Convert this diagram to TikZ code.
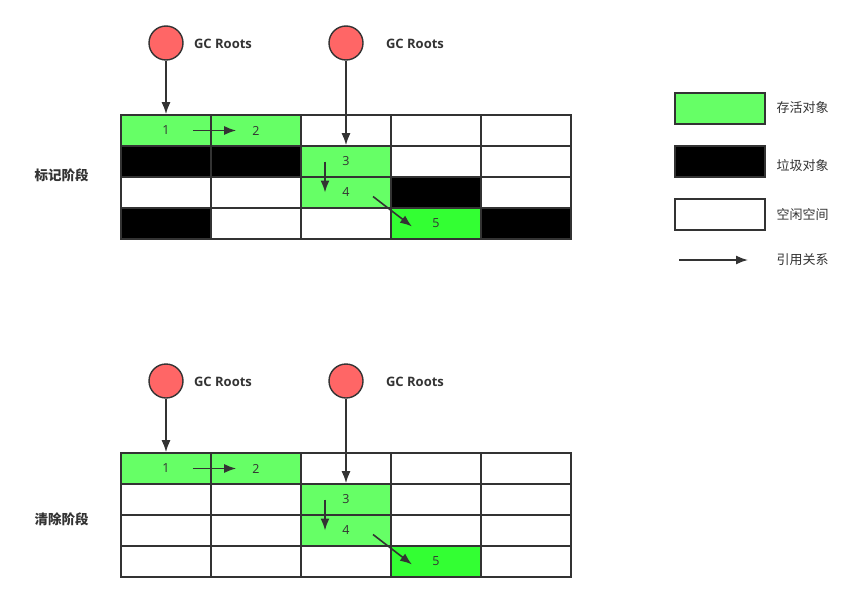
\documentclass[tikz,border=0pt]{standalone}
\usepackage{fontspec}
\setmainfont{Open Sans}
\newfontfamily\cjk{Noto Sans CJK SC}
\usetikzlibrary{arrows.meta,positioning,calc}

\definecolor{ink}{HTML}{333333}
\definecolor{live}{HTML}{66FF66}
\definecolor{moved}{HTML}{33FF33}
\definecolor{dead}{HTML}{000000}
\definecolor{free}{HTML}{FFFFFF}
\definecolor{rootred}{HTML}{FF6666}

\tikzset{
  cell/.style={draw=ink, line width=1.6pt, minimum width=90pt, minimum height=31pt, inner sep=0pt},
  root/.style={circle, draw=ink, line width=1.4pt, fill=rootred, minimum size=34pt, inner sep=0pt},
  rootlabel/.style={text=ink, font=\fontsize{13}{15}\selectfont\bfseries},
  num/.style={text=ink, font=\fontsize{12.5}{14}\selectfont},
  phase/.style={anchor=west, text=ink, font=\cjk\fontsize{13.5}{15}\selectfont\bfseries},
  legend/.style={anchor=west, text=ink, font=\cjk\fontsize{13}{15}\selectfont},
  ref/.style={draw=ink, line width=1.6pt, -{Latex[length=12pt,width=9pt]}}
}

\begin{document}
\begin{tikzpicture}[x=1pt,y=-1pt]
  \useasboundingbox (0,0) rectangle (866,602);

  % Mark phase: heap grid
  \foreach \r/\row in {1/{live,live,free,free,free},
                       2/{dead,dead,live,free,free},
                       3/{free,free,live,dead,free},
                       4/{dead,free,free,moved,dead}}{
    \foreach \f [count=\c] in \row
      \node[cell, fill=\f] (t\r\c) at ({166+90*(\c-1)}, {130.5+31*(\r-1)}) {};
  }

  % Sweep phase: heap grid
  \foreach \r/\row in {1/{live,live,free,free,free},
                       2/{free,free,live,free,free},
                       3/{free,free,live,free,free},
                       4/{free,free,free,moved,free}}{
    \foreach \f [count=\c] in \row
      \node[cell, fill=\f] (b\r\c) at ({166+90*(\c-1)}, {468.5+31*(\r-1)}) {};
  }

  % Object numbers and references, both phases
  \foreach \p/\dy in {t/0, b/338}{
    \node[num] (\p n1) at (\p11) {1};
    \node[num] (\p n2) at (\p12) {2};
    \node[num] (\p n3) at (\p23) {3};
    \node[num] (\p n4) at (\p33) {4};
    \node[num] (\p n5) at (\p44) {5};

    % GC roots
    \node[root] (\p r1) at (166, {43+\dy}) {};
    \node[root] (\p r2) at (346, {43+\dy}) {};
    \node[rootlabel] (\p l1) at (223, {44+\dy}) {GC Roots};
    \node[rootlabel] (\p l2) at (415, {44+\dy}) {GC Roots};

    \draw[ref] (\p r1.south) -- (\p11.north);
    \draw[ref] (\p r2.south) -- (\p23.north);
    \draw[ref] ([xshift=-19pt]\p11.east) -- ([xshift=26pt]\p12.west);
    \draw[ref] ([xshift=-21pt]\p23.center) -- ([xshift=-21pt]\p33.center);
    \draw[ref] ($(\p33.center)+(27,4)$) -- ($(\p44.center)+(-24,3)$);
  }

  % Phase labels
  \node[phase] (mark) at (31,175) {标记阶段};
  \node[phase] (sweep) at (31,519) {清除阶段};

  % Legend
  \node[cell, fill=live] (k1) at (720,108.5) {};
  \node[cell, fill=dead] (k2) at (720,161.5) {};
  \node[cell, fill=free] (k3) at (720,214.5) {};
  \node[legend] (kt1) at (773,108) {存活对象};
  \node[legend] (kt2) at (773,166) {垃圾对象};
  \node[legend] (kt3) at (773,215) {空闲空间};
  \node[legend] (kt4) at (773,260) {引用关系};
  \coordinate (ka) at (679,260);
  \coordinate (kb) at (748,260);
  \draw[ref] (ka) -- (kb);
\end{tikzpicture}
\end{document}
